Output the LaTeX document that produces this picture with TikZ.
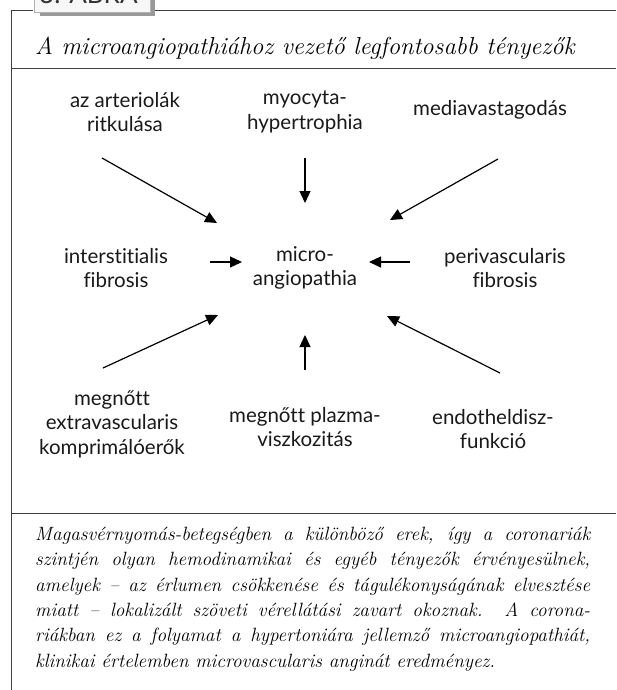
\documentclass[tikz,border=0pt]{standalone}
\usepackage{fontspec}
\newfontfamily\labelfont[Ligatures=NoCommon]{Lato}
\usetikzlibrary{arrows.meta}

\begin{document}
\begin{tikzpicture}[x=1pt,y=-1pt]
\tikzstyle{every node}=[inner sep=0pt];
\tikzstyle{factor}=[font=\labelfont\fontsize{20.5}{24.5}\selectfont,align=center,text=black!90];
\tikzstyle{push}=[line width=1.2pt,-{Triangle[length=12pt,width=11pt]}];
\tikzstyle{rule}=[line width=0.8pt,black!75];
\useasboundingbox (0,0) rectangle (616,690);
% frame and tab
\fill[black!40] (40,-10) rectangle (155,16);
\filldraw[fill=black!3,draw=black!30] (34,-10) rectangle (150,12);
\node[anchor=base west,font=\labelfont\fontsize{26}{26}\selectfont,text=black!80] (tab) at (39,4) {3. ÁBRA};
\draw[rule] (33,10) -- (11,10) -- (11,690);
\draw[rule] (155,10) -- (616,10);
\draw[rule] (11,68) -- (616,68);
\draw[rule] (11,513) -- (616,513);
\node[anchor=base west,font=\itshape\fontsize{24.5}{28}\selectfont] (title) at (35,55) {A microangiopathiához vezető legfontosabb tényezők};
% factors
\node[factor] (micro) at (305,268) {micro-\\angiopathia};
\node[factor] (arter) at (125,112) {az arteriolák\\ritkulása};
\node[factor] (myo) at (305,112) {myocyta-\\hypertrophia};
\node[factor] (media) at (490,110) {mediavastagodás};
\node[factor] (inter) at (116,268) {interstitialis\\fibrosis};
\node[factor] (peri) at (505,268) {perivascularis\\fibrosis};
\node[factor] (extra) at (112,424) {megnőtt\\extravascularis\\komprimálóerők};
\node[factor] (plazma) at (305,427) {megnőtt plazma-\\viszkozitás};
\node[factor] (endo) at (493,429) {endotheldisz-\\funkció};
% arrows into the centre
\draw[push] ([shift={(-23,46)}]arter.center) -- ([shift={(-88,-45)}]micro.center);
\draw[push] ([shift={(0,46)}]myo.center) -- ([shift={(0,-65)}]micro.center);
\draw[push] ([shift={(8,49)}]media.center) -- ([shift={(85,-48)}]micro.center);
\draw[push] ([shift={(94,-6)}]inter.center) -- ([shift={(-63,-6)}]micro.center);
\draw[push] ([shift={(-95,-6)}]peri.center) -- ([shift={(64,-6)}]micro.center);
\draw[push] ([shift={(-9,-56)}]extra.center) -- ([shift={(-87,47)}]micro.center);
\draw[push] ([shift={(0,-57)}]plazma.center) -- ([shift={(0,67)}]micro.center);
\draw[push] ([shift={(7,-56)}]endo.center) -- ([shift={(82,48)}]micro.center);
% caption
\node[anchor=north west,text width=555pt,align=justify,font=\itshape\fontsize{19.2}{25.3}\selectfont] (caption) at (35,527) {Magasvérnyomás-betegségben a különböző erek, így a coronariák\linebreak szintjén olyan hemodinamikai és egyéb tényezők érvényesülnek,\linebreak amelyek -- az érlumen csökkenése és tágulékonyságának elvesztése\linebreak miatt -- lokalizált szöveti vérellátási zavart okoznak. A corona-\linebreak riákban ez a folyamat a hypertoniára jellemző microangiopathiát,\linebreak klinikai értelemben microvascularis anginát eredményez.};
\end{tikzpicture}
\end{document}
